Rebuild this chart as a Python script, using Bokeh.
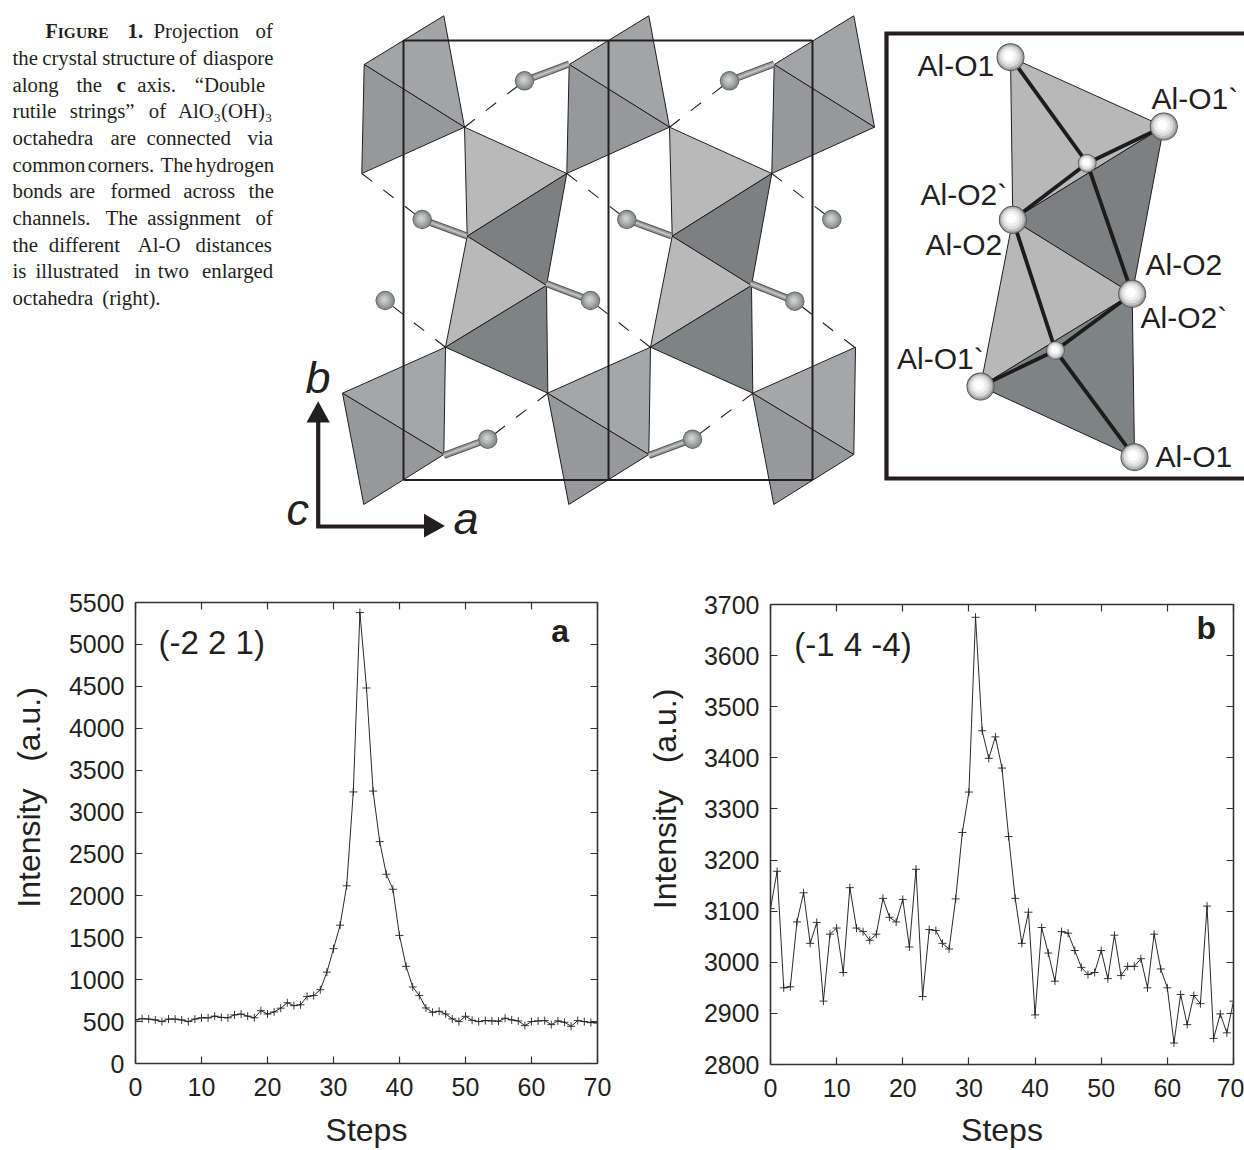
from bokeh.plotting import figure
from bokeh.layouts import column, row
from bokeh.models import Range1d, LinearAxis, FixedTicker, Label
from bokeh.core.properties import value
from bokeh.embed import file_html
from bokeh.resources import INLINE

# ---------- chart data ----------
steps = list(range(71))
intensity_a = [520, 535, 530, 520, 500, 530, 530, 520, 500, 530, 545, 545, 565, 550, 545, 580, 590, 565, 545, 630,
               590, 615, 660, 725, 690, 700, 800, 810, 880, 1090, 1370, 1650, 2120, 3240, 5380, 4480, 3250, 2647,
               2258, 2079, 1528, 1159, 913, 810, 663, 611, 623, 591, 532, 500, 563, 516, 500, 512, 508, 504, 540,
               520, 508, 452, 500, 508, 512, 464, 508, 492, 444, 512, 500, 488, 484]
intensity_b = [3105, 3178, 2950, 2952, 3079, 3136, 3037, 3078, 2924, 3055, 3067, 2980, 3146, 3067, 3060, 3043, 3055,
               3125, 3088, 3079, 3123, 3030, 3182, 2933, 3064, 3062, 3037, 3026, 3124, 3254, 3333, 3675, 3453, 3399,
               3441, 3380, 3246, 3125, 3037, 3098, 2897, 3068, 3018, 2963, 3060, 3057, 3023, 2990, 2976, 2980, 3023,
               2968, 3053, 2974, 2992, 2992, 3007, 2950, 3055, 2987, 2950, 2842, 2937, 2878, 2935, 2919, 3110, 2851,
               2899, 2862, 2924]
x_ticks = [0, 10, 20, 30, 40, 50, 60, 70]
y_ticks_a = [0, 500, 1000, 1500, 2000, 2500, 3000, 3500, 4000, 4500, 5000, 5500]
y_ticks_b = [2800, 2900, 3000, 3100, 3200, 3300, 3400, 3500, 3600, 3700]

# ---------- caption: (line baseline, [(word, left, weight)]) ----------
caption = [
    (38.3, [("1.", 127, "bold"), ("Projection", 153, "normal"), ("of", 255, "normal")]),
    (65.5, [("the", 12, "normal"), ("crystal", 41.7, "normal"), ("structure", 101.7, "normal"), ("of", 178.5, "normal"), ("diaspore", 202.5, "normal")]),
    (91.7, [("along", 12, "normal"), ("the", 76, "normal"), ("c", 116.3, "bold"), ("axis.", 136.7, "normal"), ("“Double", 194.3, "normal")]),
    (118, [("rutile", 12, "normal"), ("strings”", 69.3, "normal"), ("of", 148.3, "normal"), ("AlO₃(OH)₃", 177.5, "normal")]),
    (145, [("octahedra", 12, "normal"), ("are", 110, "normal"), ("connected", 146, "normal"), ("via", 247, "normal")]),
    (172, [("common", 12, "normal"), ("corners.", 87.3, "normal"), ("The", 160, "normal"), ("hydrogen", 195, "normal")]),
    (198, [("bonds", 12, "normal"), ("are", 69, "normal"), ("formed", 110, "normal"), ("across", 182.7, "normal"), ("the", 248, "normal")]),
    (225, [("channels.", 12, "normal"), ("The", 105, "normal"), ("assignment", 146.7, "normal"), ("of", 255, "normal")]),
    (251.7, [("the", 12, "normal"), ("different", 48.3, "normal"), ("Al-O", 137.3, "normal"), ("distances", 195, "normal")]),
    (278, [("is", 12, "normal"), ("illustrated", 35, "normal"), ("in", 134, "normal"), ("two", 157.3, "normal"), ("enlarged", 201.5, "normal")]),
    (305, [("octahedra", 12, "normal"), ("(right).", 101.7, "normal")]),
]

# ---------- structure diagram ----------
cell_shift = [0, 205, 410]
col_shift = [0, 205]
upper_light = [(363.7, 64), (443.3, 15.3), (464, 126.7)]
upper_dark = [(363.7, 64), (464, 126.7), (361.3, 173)]
lower_light = [(342, 392.7), (445, 346.7), (443.3, 454)]
lower_dark = [(342, 392.7), (443.3, 454), (363.3, 504)]
rutile = [
    ([(464, 126.7), (566.3, 173), (466.7, 235.7)], "#b9b9b9"),
    ([(566.3, 173), (466.7, 235.7), (546, 285)], "#7d7f81"),
    ([(466.7, 235.7), (546, 285), (445, 346.7)], "#b9b9b9"),
    ([(546, 285), (445, 346.7), (547.3, 392.7)], "#7e8384"),
]
cell_x = [403, 608, 812]
cell_y = [40, 479.5]
# hydrogen bonds: vertex, ball, stick end
h_dashes = [
    ((464, 126.7), (524, 80.3)), ((669, 126.7), (729, 80.3)),
    ((361.3, 173), (421.7, 219)), ((566.3, 173), (626.3, 219)), ((771.3, 173), (831.3, 219)),
    ((445, 346.7), (384.7, 300)), ((649.7, 346.7), (590, 300)), ((854, 346.7), (794.3, 300.7)),
    ((547.3, 392.7), (487.3, 438.7)), ((752.3, 392.7), (692, 438.7)),
]
h_sticks = [
    ((524, 80.3), (568.5, 63.5)), ((729, 80.3), (773.5, 63.5)),
    ((421.7, 219), (466.5, 235.5)), ((626.3, 219), (671, 235.5)),
    ((590, 300), (545.7, 283)), ((794.3, 300.7), (750, 283)),
    ((487.3, 438.7), (443.3, 455)), ((692, 438.7), (648.3, 455)),
]

# ---------- enlarged octahedra ----------
V1, V2, C1, V3, V4, C2, V5, V6 = ((1010, 56.7), (1163.3, 126), (1086.7, 162.7), (1012.3, 219.3),
                                  (1131.7, 293.3), (1055, 350), (980, 386), (1134, 456.7))
panel_polys = [([V1, V2, V3], "#b8b8b8"), ([V2, V3, V4], "#7d7f81"), ([V3, V4, V5], "#b8b8b8"), ([V4, V5, V6], "#7e8384")]
panel_bonds = [(V1, C1), (V2, C1), (V3, C1), (C1, V4), (V3, C2), (V4, C2), (V5, C2), (C2, V6)]
panel_big = [V1, V2, V3, V4, V5, V6]
panel_small = [C1, C2]
panel_labels = [("Al-O1", 917, 76.7), ("Al-O1`", 1151, 109.3), ("Al-O2`", 920, 206), ("Al-O2", 925, 255.7),
                ("Al-O2", 1145, 275.7), ("Al-O2`", 1140, 328.3), ("Al-O1`", 896.5, 370), ("Al-O1", 1155, 467.3)]

SANS = value("Liberation Sans")
SERIF = value("Liberation Serif")
INK = "#231f20"
BASE_SHIFT = 0.39  # em: distance Bokeh draws an "alphabetic" line below its anchor

top = figure(width=1244, height=578, x_range=Range1d(0, 1244), y_range=Range1d(578, 0),
             x_axis_type=None, y_axis_type=None, toolbar_location=None, output_backend="svg",
             min_border=0, outline_line_color=None, background_fill_color="white")
top.grid.visible = False


def put(s, x, y, font, size, style="normal"):
    top.text([x], [y - BASE_SHIFT * size], text=[s], text_font=font, text_font_style=style,
             text_font_size=f"{size}px", text_color=INK, text_baseline="alphabetic")


def poly(pts, color, lw=1.0):
    top.patch([a for a, _ in pts], [b for _, b in pts], fill_color=color, line_color=INK, line_width=lw, line_join="round")


def ball(pt, radius, layers):
    for scale, off, color in layers:
        top.scatter([pt[0] + off * radius], [pt[1] + off * radius], size=2 * radius * scale,
                    marker="circle", fill_color=color, line_color=None)


GREY = [(1.0, 0, "#5c5e5e"), (0.93, 0, "#868989"), (0.8, -0.03, "#9a9d9d"), (0.62, -0.06, "#adb0b0"),
        (0.42, -0.08, "#bfc1c1"), (0.22, -0.1, "#cfd0d0")]
WHITE = [(1.0, 0, "#4a4a4a"), (0.95, 0, "#8f8f8f"), (0.87, -0.02, "#bdbdbd"), (0.74, -0.05, "#dcdcdc"),
         (0.56, -0.08, "#f0f0f0"), (0.36, -0.1, "#ffffff")]

# octahedra rows
for dx in cell_shift:
    for tri, col in ((upper_light, "#a2a4a6"), (upper_dark, "#96989a")):
        poly([(a + dx, b) for a, b in tri], col)
    for tri, col in ((lower_light, "#a4a6a8"), (lower_dark, "#96989a")):
        poly([(a + dx, b) for a, b in tri], col)
for dx in col_shift:
    for tri, col in rutile:
        poly([(a + dx, b) for a, b in tri], col)

# unit cell
for x in cell_x:
    top.line([x, x], cell_y, line_color=INK, line_width=2)
for y in cell_y:
    top.line([cell_x[0], cell_x[-1]], [y, y], line_color=INK, line_width=2)

# hydrogen bonds
for a, b in h_dashes:
    top.line([a[0], b[0]], [a[1], b[1]], line_color=INK, line_width=1.1, line_dash="13 14")
for a, b in h_sticks:
    xs, ys = [a[0], b[0]], [a[1], b[1]]
    top.line(xs, ys, line_color="#555555", line_width=7)
    top.line(xs, ys, line_color="#999b9b", line_width=5)
    top.line(xs, ys, line_color="#c4c6c6", line_width=1.8)
for a, b in h_dashes:
    ball(b, 9.7, GREY)

# axes cross
top.line([317.7, 317.7, 425], [420, 526, 526], line_color=INK, line_width=4.2, line_join="miter")
top.patch([317.7, 306, 329.3], [400.7, 422, 422], fill_color=INK, line_color=None)
top.patch([444.5, 423.5, 423.5], [525.5, 513.3, 537], fill_color=INK, line_color=None)
for s, x, y in (("b", 305, 395), ("c", 286, 526.5), ("a", 453, 536)):
    put(s, x, y, SANS, 45, "italic")

# enlarged panel
for tri, col in panel_polys:
    poly(tri, col, 1.0)
for a, b in panel_bonds:
    top.line([a[0], b[0]], [a[1], b[1]], line_color="#1d1b1b", line_width=3.8)
for v in panel_big:
    ball(v, 14, WHITE)
for v in panel_small:
    ball(v, 9.3, WHITE)
top.line([1250, 886, 886, 1250], [33, 33, 478, 478], line_color=INK, line_width=4.2, line_join="miter")
for s, x, y in panel_labels:
    put(s, x, y, SANS, 30)

# caption
put("F", 45, 38.3, SERIF, 20, "bold")
put("IGURE", 57.3, 38.3, SERIF, 15.5, "bold")
for y, words in caption:
    for w, x, weight in words:
        put(w, x, y, SERIF, 20.8, weight)


def chart(series, yticks, ylo, yhi, width, left, right, tp, bottom, hkl, hkl_xy, tag, tag_xy, xstand, ystand):
    p = figure(width=width, height=572, x_range=Range1d(0, 70), y_range=Range1d(ylo, yhi), toolbar_location=None,
               output_backend="svg", min_border_left=left, min_border_right=right, min_border_top=tp,
               min_border_bottom=bottom, outline_line_color=None, x_axis_label="Steps",
               y_axis_label="\u00a0" * 8 + "Intensity\u00a0\u00a0\u00a0(a.u.)")
    p.grid.visible = False
    ax = dict(axis_line_color="#333333", axis_line_width=1.6, major_tick_line_color="#333333",
              major_tick_line_width=1.2, major_tick_in=7, major_tick_out=0, minor_tick_line_color=None)
    p.xaxis.ticker = FixedTicker(ticks=x_ticks)
    p.yaxis.ticker = FixedTicker(ticks=yticks)
    for a in (p.xaxis[0], p.yaxis[0]):
        a.update(**ax)
        a.major_label_text_font = "Liberation Sans"
        a.major_label_text_font_size = "25px"
        a.major_label_text_color = INK
        a.axis_label_text_font = "Liberation Sans"
        a.axis_label_text_font_size = "32px"
        a.axis_label_text_font_style = "normal"
        a.axis_label_text_color = INK
    p.xaxis[0].major_label_standoff = 14
    p.yaxis[0].major_label_standoff = 11
    p.xaxis[0].axis_label_standoff = xstand
    p.yaxis[0].axis_label_standoff = ystand
    for side, ticks in (("above", x_ticks), ("right", yticks)):
        p.add_layout(LinearAxis(ticker=FixedTicker(ticks=ticks), major_label_overrides={t: "" for t in ticks},
                                major_label_text_font_size="1px", major_label_standoff=0, **ax), side)
    p.line(steps, series, line_color="#2b2b2b", line_width=1.0)
    p.scatter(steps, series, marker="cross", size=8, line_color="#222222", line_width=0.9)
    p.add_layout(Label(x=hkl_xy[0], y=hkl_xy[1], text=hkl, text_font="Liberation Sans", text_font_size="33px",
                       text_color=INK, text_baseline="middle"))
    p.add_layout(Label(x=tag_xy[0], y=tag_xy[1], text=tag, text_font="Liberation Sans", text_font_style="bold",
                       text_font_size="32px", text_color=INK, text_baseline="alphabetic"))
    return p


a = chart(intensity_a, y_ticks_a, 0, 5500, 628, 135, 31, 24, 86, "(-2 2 1)", (3.5, 5024), "a", (63, 5160), 13, 19)
b = chart(intensity_b, y_ticks_b, 2800, 3700, 616, 142, 11, 26, 83, "(-1 4 -4)", (3.6, 3622), "b", (64.4, 3654), 12, 18)

# each chart sits in its own column so that the row does not align their frames
page = column(top, row(column(a), column(b), spacing=0), spacing=0)
open("out.html", "w").write(file_html(page, INLINE))
